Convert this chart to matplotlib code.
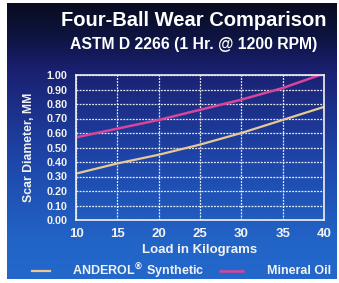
import numpy as np
import matplotlib
matplotlib.use("Agg")
import matplotlib.pyplot as plt
from matplotlib.colors import LinearSegmentedColormap

plt.rcParams['font.family'] = ['Liberation Sans', 'DejaVu Sans']
plt.rcParams['font.weight'] = 'bold'

loads = [10, 15, 20, 25, 30, 35, 40]
anderol = [0.32, 0.39, 0.45, 0.52, 0.60, 0.69, 0.78]
mineral = [0.57, 0.63, 0.69, 0.76, 0.83, 0.91, 1.01]
yticks = [0.0, 0.1, 0.2, 0.3, 0.4, 0.5, 0.6, 0.7, 0.8, 0.9, 1.0]
xticks = [10, 15, 20, 25, 30, 35, 40]

W, H = 339, 283
fig = plt.figure(figsize=(W / 100, H / 100), dpi=100, facecolor='white')

# background gradient panel
x0, x1, y0, y1 = 7, 337, 3, 279
bg = fig.add_axes([x0 / W, 1 - y1 / H, (x1 - x0) / W, (y1 - y0) / H])
cmap = LinearSegmentedColormap.from_list('bg', [
    (0.0, '#090c20'), (0.12, '#0e1440'), (0.24, '#1a2070'),
    (0.57, '#1e46aa'), (0.86, '#2264c6'), (1.0, '#2468cc')])
grad = np.linspace(0, 1, 256).reshape(-1, 1)
bg.imshow(grad, aspect='auto', cmap=cmap, extent=[0, 1, 1, 0])
bg.set_axis_off()

# plot axes
px0, px1, py0, py1 = 76, 324, 75, 220
ax = fig.add_axes([px0 / W, 1 - py1 / H, (px1 - px0) / W, (py1 - py0) / H])
ax.patch.set_alpha(0)
ax.plot(loads, anderol, color='#e8c894', lw=1.6)
ax.plot(loads, mineral, color='#d8459a', lw=1.8)
ax.set_xlim(10, 40)
ax.set_ylim(0, 1.0)
ax.set_xticks(xticks)
ax.set_yticks(yticks)
ax.set_yticklabels([f"{v:.2f}" for v in yticks])
ax.grid(True, color='white', linestyle=(0, (1.5, 1)), lw=0.9, alpha=0.9)
for s in ax.spines.values():
    s.set_color('#f0f0f0')
    s.set_linewidth(1.2)
ax.tick_params(axis='y', length=0, colors='#f2f2f2', labelsize=7.8, pad=6)
ax.tick_params(axis='x', length=0, colors='#f2f2f2', labelsize=9.5, pad=6)
for lbl in ax.get_xticklabels() + ax.get_yticklabels():
    lbl.set_fontweight('bold')
ax.set_xlabel('Load in Kilograms', color='#f2f2f2', fontsize=9.5, fontweight='bold', labelpad=3)
ax.set_ylabel('Scar Diameter, MM', color='#f2f2f2', fontsize=8.8, fontweight='bold', labelpad=8)

fig.text(194 / W, 1 - 20 / H, 'Four-Ball Wear Comparison', color='white', fontsize=14.5,
         fontweight='bold', ha='center', va='center')
fig.text(194 / W, 1 - 44 / H, 'ASTM D 2266 (1 Hr. @ 1200 RPM)', color='white', fontsize=11.3,
         fontweight='bold', ha='center', va='center')

# legend
ly = 1 - 271 / H
fig.add_artist(plt.Line2D([32 / W, 50 / W], [ly, ly], color='#e8c894', lw=1.6))
fig.text(72 / W, ly, 'ANDEROL$^{\u00ae}$ Synthetic', color='#f2f2f2', fontsize=9,
         fontweight='bold', va='center', ha='left')
fig.add_artist(plt.Line2D([220 / W, 243 / W], [ly, ly], color='#d8459a', lw=1.8))
fig.text(267 / W, ly, 'Mineral Oil', color='#f2f2f2', fontsize=9,
         fontweight='bold', va='center', ha='left')

fig.savefig('out.png', dpi=100, facecolor='white')
